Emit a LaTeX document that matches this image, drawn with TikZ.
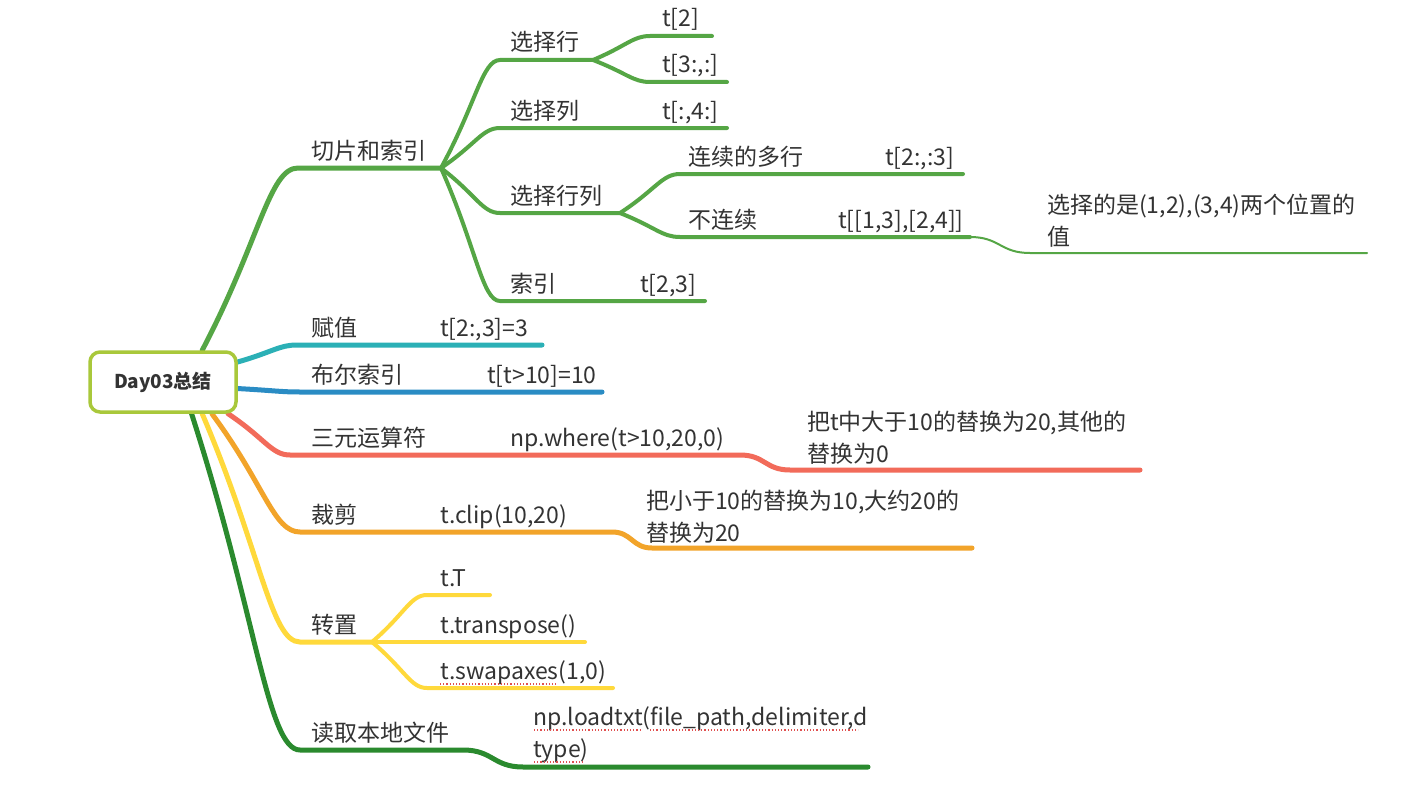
\documentclass[tikz,border=0pt]{standalone}
\usepackage{fontspec}
\setmainfont{Noto Sans CJK SC}
\usetikzlibrary{calc, backgrounds}
\definecolor{txtgray}{HTML}{333333}
\definecolor{rootline}{HTML}{A9C83B}
\definecolor{slicegreen}{HTML}{55A645}
\definecolor{assignteal}{HTML}{2BB0B6}
\definecolor{boolblue}{HTML}{2A8CC4}
\definecolor{ternred}{HTML}{F26B5A}
\definecolor{cliporange}{HTML}{F2A42A}
\definecolor{transyellow}{HTML}{FFD93B}
\definecolor{loadgreen}{HTML}{2A8A2E}
\definecolor{spellred}{HTML}{E05050}

\begin{document}
\begin{tikzpicture}[x=1pt, y=-1pt,
      every node/.style={text=txtgray},
      root/.style={draw=rootline, line width=3.5pt, rounded corners=10pt, fill=white,
                   minimum width=146pt, minimum height=60pt, font=\fontsize{19}{22}\selectfont\bfseries},
      lbl/.style={anchor=base west, inner sep=0pt, font=\fontsize{23}{32}\selectfont},
      note/.style={lbl, align=left},
      branch/.style={line width=5pt, line cap=round, draw=#1},
      twig/.style={line width=4pt, line cap=round, draw=#1},
      fork/.style={to path={.. controls ($(\tikztostart)!0.6!(\tikztotarget)$)
                   and ($(\tikztotarget)!0.3!(\tikztotarget -| \tikztostart)$) .. (\tikztotarget) \tikztonodes}},
      swing/.style={to path={.. controls ($(\tikztostart)!0.5!(\tikztotarget |- \tikztostart)$)
                   and ($(\tikztotarget)!0.5!(\tikztotarget -| \tikztostart)$) .. (\tikztotarget) \tikztonodes}},
      spell/.style={draw=spellred, line width=1.2pt, dotted}
    ]
    \useasboundingbox (0,0) rectangle (1406,792);
    \node[root] (root) at (163,382) {Day03总结};

    \coordinate (slice-s) at (298,168);  \coordinate (slice-e) at (441,168);
    \coordinate (row-s) at (500,60);     \coordinate (row-e) at (593,60);
    \coordinate (row2-s) at (650,36);    \coordinate (row2-e) at (712,36);
    \coordinate (row3-s) at (650,82);    \coordinate (row3-e) at (727,82);
    \coordinate (col-s) at (500,128);    \coordinate (col-e) at (727,128);
    \coordinate (rc-s) at (500,213);     \coordinate (rc-e) at (620,213);
    \coordinate (rcon-s) at (680,174);   \coordinate (rcon-e) at (963,174);
    \coordinate (rdis-s) at (680,237);   \coordinate (rdis-e) at (970,237);
    \coordinate (rdisn-s) at (1030,253); \coordinate (rdisn-e) at (1367,253);
    \coordinate (idx-s) at (500,301);    \coordinate (idx-e) at (705,301);
    \coordinate (asg-s) at (297,345);    \coordinate (asg-e) at (542,345);
    \coordinate (bool-s) at (300,392);   \coordinate (bool-e) at (602,392);
    \coordinate (tern-s) at (290,455);   \coordinate (tern-e) at (740,455);
    \coordinate (ternn-s) at (790,470);  \coordinate (ternn-e) at (1140,470);
    \coordinate (clip-s) at (300,532);   \coordinate (clip-e) at (612,532);
    \coordinate (clipn-s) at (652,548);  \coordinate (clipn-e) at (972,548);
    \coordinate (trans-s) at (300,642);  \coordinate (trans-e) at (372,642);
    \coordinate (transT-s) at (427,595); \coordinate (transT-e) at (490,595);
    \coordinate (transP-e) at (585,642);
    \coordinate (transS-s) at (427,688); \coordinate (transS-e) at (613,688);
    \coordinate (load-s) at (300,750);   \coordinate (load-e) at (463,750);
    \coordinate (loadn-s) at (523,767);  \coordinate (loadn-e) at (868,767);

    \begin{scope}[on background layer]
      \fill[white] (0,0) rectangle (1406,792);
      \draw[branch=slicegreen] (root.39) to[fork] (slice-s) -- (slice-e);
      \draw[twig=slicegreen] (slice-e) to[fork] (row-s) -- (row-e);
      \draw[twig=slicegreen] (row-e) to[fork] (row2-s) -- (row2-e);
      \draw[twig=slicegreen] (row-e) to[fork] (row3-s) -- (row3-e);
      \draw[twig=slicegreen] (slice-e) to[fork] (col-s) -- (col-e);
      \draw[twig=slicegreen] (slice-e) to[fork] (rc-s) -- (rc-e);
      \draw[twig=slicegreen] (rc-e) to[fork] (rcon-s) -- (rcon-e);
      \draw[twig=slicegreen] (rc-e) to[fork] (rdis-s) -- (rdis-e);
      \draw[slicegreen, line width=2pt, line cap=round] (rdis-e) to[swing] (rdisn-s) -- (rdisn-e);
      \draw[twig=slicegreen] (slice-e) to[fork] (idx-s) -- (idx-e);
      \draw[branch=assignteal] (root.15) to[fork] (asg-s) -- (asg-e);
      \draw[branch=boolblue] (root.-5) to[fork] (bool-s) -- (bool-e);
      \draw[branch=ternred] (root.-26) to[fork] (tern-s) -- (tern-e) to[swing] (ternn-s) -- (ternn-e);
      \draw[branch=cliporange] (root.-33) to[fork] (clip-s) -- (clip-e) to[swing] (clipn-s) -- (clipn-e);
      \draw[branch=transyellow] (root.-39) to[fork] (trans-s) -- (trans-e);
      \draw[twig=transyellow] (trans-e) to[fork] (transT-s) -- (transT-e);
      \draw[twig=transyellow] (trans-e) -- (transP-e);
      \draw[twig=transyellow] (trans-e) to[fork] (transS-s) -- (transS-e);
      \draw[branch=loadgreen] (root.-48) to[fork] (load-s) -- (load-e) to[swing] (loadn-s) -- (loadn-e);
    \end{scope}

    \node[lbl] (slice) at (311,159) {切片和索引};
    \node[lbl] (row) at (510,51) {选择行};
    \node[lbl] (row2) at (662,27) {t[2]};
    \node[lbl] (row3) at (662,73) {t[3:,:]};
    \node[lbl] (col) at (510,119) {选择列};
    \node[lbl] (colv) at (662,119) {t[:,4:]};
    \node[lbl] (rc) at (510,204) {选择行列};
    \node[lbl] (rcon) at (688,165) {连续的多行};
    \node[lbl] (rconv) at (885,165) {t[2:,:3]};
    \node[lbl] (rdis) at (688,228) {不连续};
    \node[lbl] (rdisv) at (838,228) {t[[1,3],[2,4]]};
    \node[note] (rdisn) at (1047,245) {选择的是(1,2),(3,4)两个位置的\\值};
    \node[lbl] (idx) at (510,292) {索引};
    \node[lbl] (idxv) at (640,292) {t[2,3]};
    \node[lbl] (asg) at (311,336) {赋值};
    \node[lbl] (asgv) at (440,336) {t[2:,3]=3};
    \node[lbl] (bool) at (311,383) {布尔索引};
    \node[lbl] (boolv) at (487,383) {t[t>10]=10};
    \node[lbl] (tern) at (311,446) {三元运算符};
    \node[lbl] (ternv) at (510,446) {np.where(t>10,20,0)};
    \node[note] (ternn) at (807,462) {把t中大于10的替换为20,其他的\\替换为0};
    \node[lbl] (clip) at (311,523) {裁剪};
    \node[lbl] (clipv) at (440,523) {t.clip(10,20)};
    \node[note] (clipn) at (646,541) {把小于10的替换为10,大约20的\\替换为20};
    \node[lbl] (trans) at (311,633) {转置};
    \node[lbl] (transT) at (440,586) {t.T};
    \node[lbl] (transP) at (440,633) {t.transpose()};
    \node[lbl] (transS) at (440,679) {t.swapaxes(1,0)};
    \node[lbl] (load) at (311,741) {读取本地文件};
    \node[note] (loadn) at (533,757) {np.loadtxt(file\_path,delimiter,d\\type)};

    \draw[spell] ($(transS.base west)+(0,5)$) -- ++(116,0);
    \draw[spell] ($(loadn.base west)+(1,-27)$) -- ++(107,0);
    \draw[spell] ($(loadn.base west)+(117,-27)$) -- ++(208,0);
    \draw[spell] ($(loadn.base west)+(1,5)$) -- ++(49,0);
  \end{tikzpicture}
\end{document}
